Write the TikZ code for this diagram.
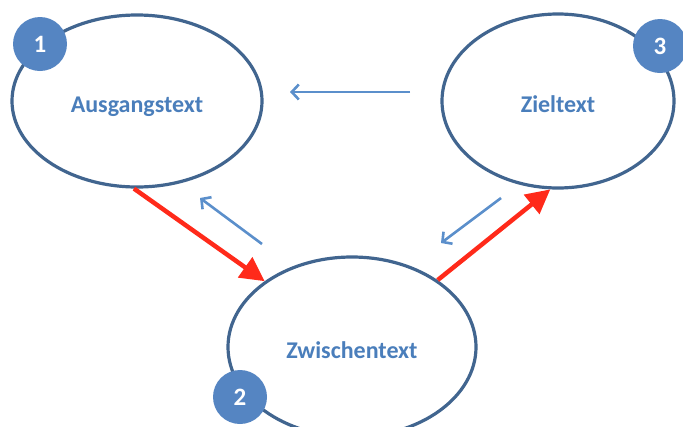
\documentclass[tikz,border=0pt]{standalone}
\usepackage{fontspec}
\setmainfont{Carlito}
\usetikzlibrary{shapes.geometric,arrows.meta}
\definecolor{ovalblue}{HTML}{41658F}
\definecolor{textblue}{HTML}{4A7EBB}
\definecolor{badgeblue}{HTML}{5585C2}
\definecolor{backblue}{HTML}{5B8FCB}
\definecolor{forwardred}{HTML}{FF2A1A}
\begin{document}
\begin{tikzpicture}[x=1pt,y=-1pt]
                \tikzstyle{textoval}=[ellipse,draw=ovalblue,line width=3.2pt,fill=white,inner sep=0pt,text=textblue,text height=27pt,text depth=5pt,font=\bfseries\fontsize{24}{28}\selectfont]
                \tikzstyle{badge}=[circle,fill=badgeblue,minimum size=54pt,inner sep=0pt,text=white,font=\bfseries\fontsize{25}{30}\selectfont]
                \tikzstyle{forward}=[forwardred,line width=4.5pt,-{Triangle[length=24pt,width=24pt]}]
                \tikzstyle{backward}=[backblue,line width=2.6pt,-{Straight Barb[length=7pt,width=15pt]}]
                \useasboundingbox (0,0) rectangle (683,426);
                        \node[textoval,minimum width=250pt,minimum height=172pt] (T-1) at (137,101){Ausgangstext};
                        \node[textoval,minimum width=248pt,minimum height=180pt] (T-2) at (352,347){Zwischentext};
                        \node[textoval,minimum width=232pt,minimum height=174pt] (T-3) at (558,101){Zieltext};
                        \node[badge] (N-1) at (40,44){1};
                        \node[badge] (N-2) at (240,397){2};
                        \node[badge] (N-3) at (660,46){3};
                        \coordinate (B-1) at (262,244);
                        \coordinate (B-2) at (200,198);
                        \coordinate (B-3) at (501,198);
                        \coordinate (B-4) at (441,243);
                        \coordinate (B-5) at (410,92);
                        \coordinate (B-6) at (290,92);

                    \draw[forward] (T-1.268) -- (T-2.143);
                    \draw[forward] (T-2.38) -- (T-3.265);
                    \foreach \from/\to in {1/2, 3/4, 5/6}
                        \draw[backward] (B-\from) -- (B-\to);
            \end{tikzpicture}
\end{document}
